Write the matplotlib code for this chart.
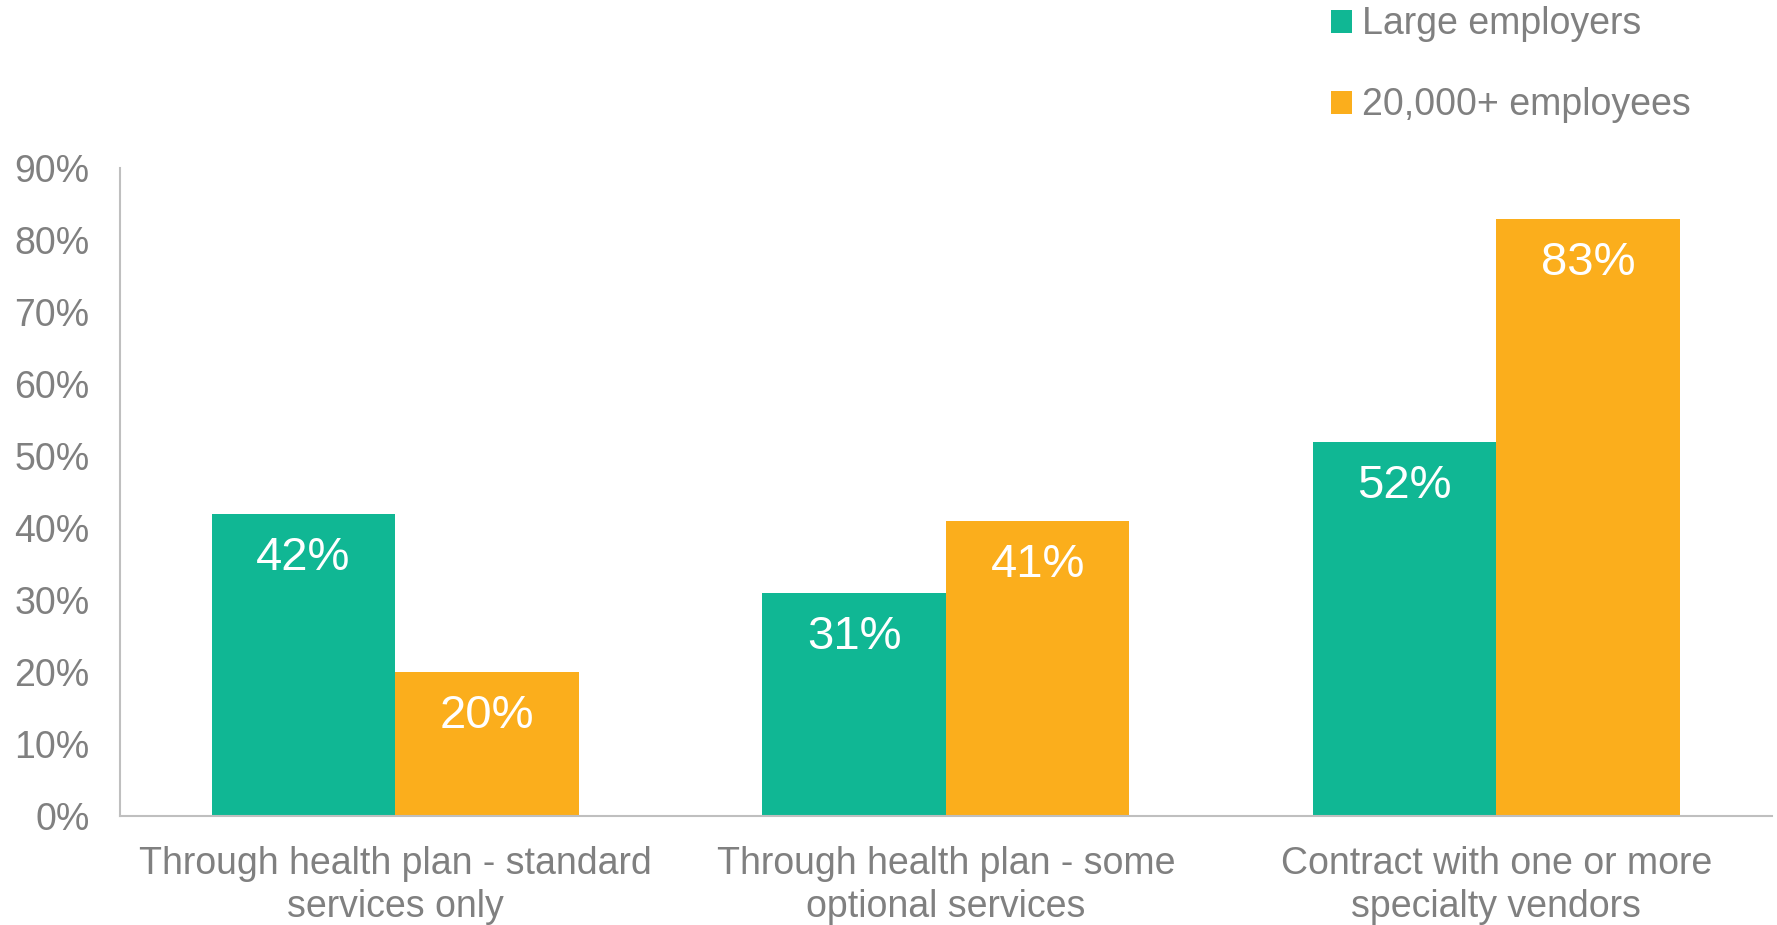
import matplotlib
matplotlib.use("Agg")
import matplotlib.pyplot as plt
import numpy as np

categories = ["Through health plan - standard\nservices only",
              "Through health plan - some\noptional services",
              "Contract with one or more\nspecialty vendors"]
series_names = ["Large employers", "20,000+ employees"]
large = [42, 31, 52]
big = [20, 41, 83]
colors = ["#10B794", "#FBAE1C"]
ytick_labels = ["0%", "10%", "20%", "30%", "40%", "50%", "60%", "70%", "80%", "90%"]

plt.rcParams["font.family"] = ["Liberation Sans", "DejaVu Sans"]
gray = "#808080"

fig = plt.figure(figsize=(17.77, 9.25), dpi=100)
ax = fig.add_axes([0.0675, 0.118, 0.9295, 0.70])

x = np.arange(len(categories))
w = 1 / 3
bars1 = ax.bar(x - w / 2, large, w, color=colors[0], label=series_names[0])
bars2 = ax.bar(x + w / 2, big, w, color=colors[1], label=series_names[1])

# value labels sit just inside the top of each bar
for bars, vals in ((bars1, large), (bars2, big)):
    for b, v in zip(bars, vals):
        ax.annotate(f"{v}%", (b.get_x() + b.get_width() / 2, v),
                    xytext=(0, -32), textcoords="offset points",
                    ha="center", va="center", color="white", fontsize=34)

ax.set_xlim(-0.5, 2.5)
ax.set_ylim(0, 90)
ax.set_yticks(np.arange(0, 91, 10))
ax.set_yticklabels(ytick_labels)
ax.set_xticks(x)
ax.set_xticklabels(categories, linespacing=1.25)
ax.tick_params(axis="both", length=0, labelsize=27, colors=gray)
ax.tick_params(axis="y", pad=22)
ax.tick_params(axis="x", pad=22)

for s in ["top", "right"]:
    ax.spines[s].set_visible(False)
for s in ["left", "bottom"]:
    ax.spines[s].set_color("#BFBFBF")
    ax.spines[s].set_linewidth(1.5)

leg = ax.legend(loc="upper left", bbox_to_anchor=(0.749, 0.993),
                bbox_transform=fig.transFigure, frameon=False,
                fontsize=27, handlelength=0.55, handleheight=0.55,
                handletextpad=0.28, labelspacing=1.2,
                borderpad=0, borderaxespad=0)
for t in leg.get_texts():
    t.set_color(gray)

fig.savefig("out.png", dpi=100)
